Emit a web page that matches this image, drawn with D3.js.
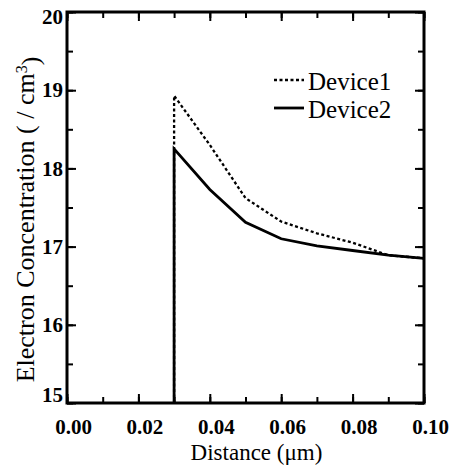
<!DOCTYPE html>
<html>
<head>
<meta charset="utf-8">
<script src="https://cdn.jsdelivr.net/npm/d3@7"></script>
<style>
  body { margin: 0; background: #fff; }
  svg { display: block; }
  .domain { display: none; }
  .tick line { stroke: #000; stroke-width: 2px; }
</style>
</head>
<body>
<div id="graph"></div>
<script>
// values (log10 of concentration)
var distance = [0.03, 0.03, 0.04, 0.05, 0.06, 0.07, 0.08, 0.09, 0.10];
var device1 = [15, 18.93, 18.30, 17.62, 17.32, 17.17, 17.05, 16.89, 16.85];
var device2 = [15, 18.25, 17.73, 17.31, 17.10, 17.01, 16.95, 16.89, 16.85];
var xTicks = [0, 0.02, 0.04, 0.06, 0.08, 0.10];
var yTicks = [15, 16, 17, 18, 19, 20];

var serif = "'Liberation Serif', 'Times New Roman', serif";

var margin = { top: 12, right: 25, bottom: 63, left: 67 },
    width = 449 - margin.left - margin.right,
    height = 466 - margin.top - margin.bottom;

var svg = d3.select("#graph")
    .append("svg")
    .attr("width", 449)
    .attr("height", 466)
    .append("g")
    .attr("transform", "translate(" + margin.left + "," + margin.top + ")");

var x = d3.scaleLinear().domain([0, 0.10]).range([0, width]);
var y = d3.scaleLinear().domain([15, 20]).range([height, 0]);

var xMinor = d3.range(0, 0.1001, 0.01);
var yMinor = d3.range(15, 20.01, 0.5);

// minor ticks, all four sides
svg.append("g").attr("transform", "translate(0," + height + ")")
    .call(d3.axisBottom(x).tickValues(xMinor).tickSize(-6).tickFormat(""));
svg.append("g")
    .call(d3.axisTop(x).tickValues(xMinor).tickSize(-6).tickFormat(""));
svg.append("g")
    .call(d3.axisLeft(y).tickValues(yMinor).tickSize(-6).tickFormat(""));
svg.append("g").attr("transform", "translate(" + width + ",0)")
    .call(d3.axisRight(y).tickValues(yMinor).tickSize(-6).tickFormat(""));

// major ticks
var xAxis = svg.append("g").attr("transform", "translate(0," + height + ")")
    .call(d3.axisBottom(x).tickValues(xTicks).tickSize(-9).tickPadding(16)
        .tickFormat(d3.format(".2f")));
xAxis.selectAll("text").attr("dx", 6);

svg.append("g")
    .call(d3.axisTop(x).tickValues(xTicks).tickSize(-9).tickFormat(""));

var yAxis = svg.append("g")
    .call(d3.axisLeft(y).tickValues(yTicks).tickSize(-9).tickPadding(4)
        .tickFormat(d3.format("d")));
yAxis.selectAll("text").attr("dy", function (d) {
    if (d === 20) return "0.55em";
    if (d === 15) return "-0.05em";
    return "0.32em";
});

svg.append("g").attr("transform", "translate(" + width + ",0)")
    .call(d3.axisRight(y).tickValues(yTicks).tickSize(-9).tickFormat(""));

svg.selectAll(".tick text")
    .attr("font-family", null)
    .style("font-family", serif)
    .style("font-weight", "bold")
    .style("font-size", "21px")
    .attr("fill", "#000");

// frame
svg.append("rect")
    .attr("width", width)
    .attr("height", height)
    .attr("fill", "none")
    .attr("stroke", "#000")
    .attr("stroke-width", 3);

var line = d3.line()
    .x(function (d) { return x(d[0]); })
    .y(function (d) { return y(d[1]); });

svg.append("path")
    .datum(d3.zip(distance, device1))
    .attr("fill", "none")
    .attr("stroke", "#000")
    .attr("stroke-width", 2.3)
    .attr("stroke-dasharray", "3,2.5")
    .attr("d", line);

svg.append("path")
    .datum(d3.zip(distance, device2))
    .attr("fill", "none")
    .attr("stroke", "#000")
    .attr("stroke-width", 2.8)
    .attr("d", line);

// legend
var legend = svg.append("g").attr("transform", "translate(207,68)");
var items = [{ name: "Device1", dash: "3,2.5", w: 2.3 }, { name: "Device2", dash: null, w: 2.8 }];
items.forEach(function (it, i) {
    legend.append("line")
        .attr("x1", 0).attr("x2", 30)
        .attr("y1", i * 28).attr("y2", i * 28)
        .attr("stroke", "#000")
        .attr("stroke-width", it.w)
        .attr("stroke-dasharray", it.dash);
    legend.append("text")
        .attr("x", 34).attr("y", i * 28 + 10)
        .style("font-family", serif)
        .style("font-size", "25px")
        .text(it.name);
});

// axis titles
svg.append("text")
    .attr("text-anchor", "middle")
    .attr("x", width / 2 + 11)
    .attr("y", height + 57)
    .style("font-family", serif)
    .style("font-size", "23px")
    .text("Distance  (\u03bcm)");

var yt = svg.append("text")
    .attr("text-anchor", "middle")
    .attr("transform", "translate(-33," + (height / 2 + 12) + ") rotate(-90)")
    .style("font-family", serif)
    .style("font-size", "26px");
yt.append("tspan").text("Electron Concentration  ( / cm");
yt.append("tspan").attr("dy", "-0.45em").style("font-size", "16px").text("3");
yt.append("tspan").attr("dy", "0.45em").text(")");
</script>
</body>
</html>
